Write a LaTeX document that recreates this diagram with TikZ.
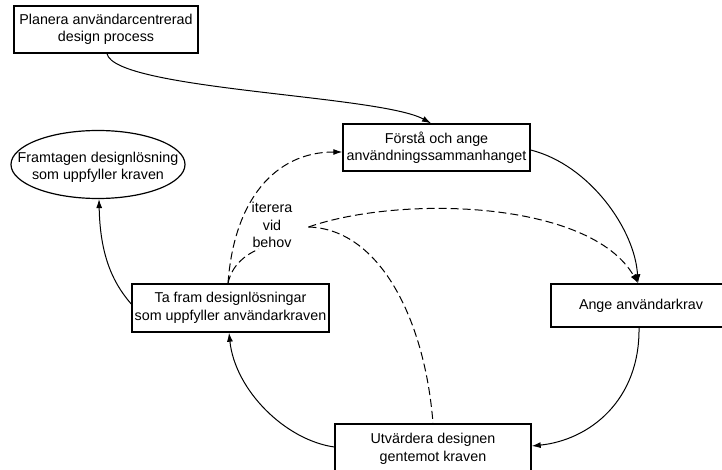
\documentclass[tikz,border=0pt]{standalone}
\usepackage{fontspec}
\setmainfont{Liberation Sans}
\usetikzlibrary{arrows.meta,shapes.geometric,calc}
\begin{document}
\begin{tikzpicture}[x=1pt,y=-1pt]
\tikzset{
  txt/.style={font=\fontsize{14.3}{17.5}\selectfont, align=center},
  stepbox/.style={txt, draw, line width=1.4pt, rectangle, inner sep=0pt},
  oval/.style={draw, ellipse, line width=1.2pt, inner sep=0pt},
  tip/.style={-{Latex[length=9pt,width=6pt]}},
  flow/.style={line width=1pt, tip},
  iter/.style={line width=1pt, dash pattern=on 8pt off 4pt},
}
\useasboundingbox (0,0) rectangle (722,470);
\clip (0,0) rectangle (722,470);

% nodes
\node[stepbox, minimum width=184pt, minimum height=47pt] (P) at (106,29.5) {Planera användarcentrerad\\design process};
\node[stepbox, minimum width=187pt, minimum height=47pt] (F) at (436.5,147.5) {Förstå och ange\\användningssammanhanget};
\node[stepbox, minimum width=180pt, minimum height=43pt] (A) at (641,305.5) {Ange användarkrav};
\node[stepbox, minimum width=197pt, minimum height=48pt] (T) at (230.5,308) {Ta fram designlösningar\\som uppfyller användarkraven};
\node[stepbox, minimum width=196pt, minimum height=50pt] (U) at (433,449) {Utvärdera designen\\gentemot kraven};
\node[oval, minimum width=174pt, minimum height=68pt,
      label={[txt, yshift=-3pt]center:{Framtagen designlösning\\som uppfyller kraven}}] (E) at (98,164.5) {};
\node[txt, inner sep=1pt] (L) at (272,225) {iterera\\vid\\behov};
\coordinate (Lr) at ([xshift=15pt,yshift=-2pt]L.east);

% solid flow
\draw[flow] ([xshift=1pt]P.south) .. controls (115,90) and (380,95) .. ([xshift=-5.5pt]F.north);
\draw[flow] ([yshift=-2.5pt]F.east) .. controls (590,165) and (635,230) .. ([xshift=-3pt]A.north);
\draw[flow] ([xshift=-2pt]A.south) .. controls (640,400) and (590,440) .. ([yshift=3pt]U.east);
\draw[flow] ([yshift=2pt]U.west) .. controls (285,440) and (235,390) .. ([xshift=-1.5pt]T.south);
\draw[flow] ([yshift=4pt]T.west) .. controls (110,280) and (100,250) .. ([xshift=1pt]E.south);

% iteration (dashed)
\draw[iter, tip] ([xshift=-2.5pt]T.north) .. controls (234,200) and (275,152) .. ([yshift=-4.5pt]F.west);
\draw[iter] ([xshift=-2.5pt]T.north) .. controls (232,265) and (245,255) .. ([xshift=-13pt]L.south);
\draw[iter, tip] (Lr) .. controls (400,195) and (590,200) .. ([xshift=-3pt]A.north);
\draw[iter] (Lr) .. controls (380,229) and (425,320) .. (U.north);
\end{tikzpicture}
\end{document}
